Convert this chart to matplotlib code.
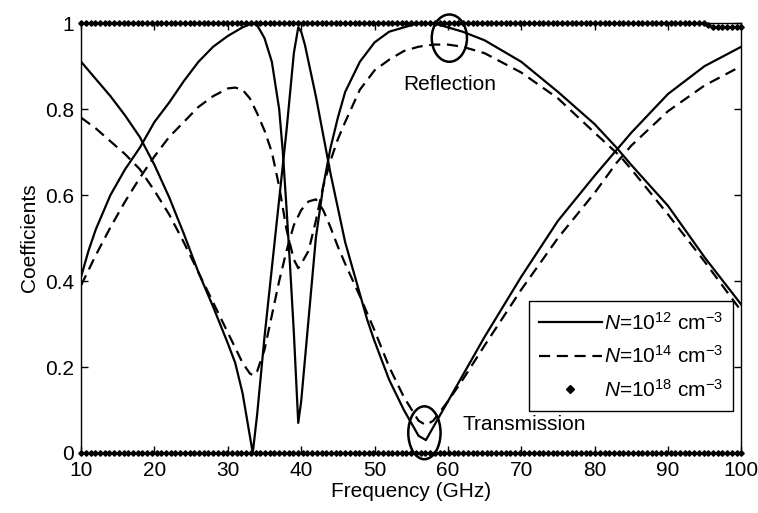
import numpy as np
import matplotlib
matplotlib.use("Agg")
import matplotlib.pyplot as plt
from matplotlib.patches import Ellipse

plt.rcParams['font.family'] = ['Liberation Sans', 'DejaVu Sans']
plt.rcParams['mathtext.fontset'] = 'custom'
plt.rcParams['mathtext.rm'] = 'Liberation Sans'
plt.rcParams['mathtext.it'] = 'Liberation Sans:italic'

# N = 1e12 cm^-3 (solid)
f_t12 = [10, 12, 14, 16, 18, 20, 22, 24, 26, 28, 30, 31, 32, 33, 33.4, 34, 35, 36, 37, 38,
         38.5, 39, 39.6, 40, 40.5, 41, 42, 43, 44, 45, 46, 47, 48, 49, 50, 52, 54, 55, 56,
         57, 58, 59, 60, 62, 65, 70, 75, 80, 83, 85, 90, 95, 100]
t12 = [0.91, 0.87, 0.83, 0.785, 0.735, 0.67, 0.595, 0.51, 0.42, 0.34, 0.255, 0.21, 0.14,
       0.04, 0.0, 0.09, 0.27, 0.43, 0.59, 0.75, 0.84, 0.93, 0.99, 0.98, 0.95, 0.91, 0.83,
       0.74, 0.65, 0.57, 0.49, 0.43, 0.37, 0.31, 0.26, 0.17, 0.10, 0.07, 0.04, 0.03, 0.06,
       0.09, 0.12, 0.18, 0.27, 0.41, 0.54, 0.645, 0.705, 0.745, 0.835, 0.90, 0.945]

f_r12 = [10, 11, 12, 13, 14, 16, 18, 20, 22, 24, 26, 28, 30, 31, 32, 33.4, 34, 35, 36, 37,
         37.5, 38, 38.5, 39, 39.6, 40, 41, 42, 43, 44, 45, 46, 48, 50, 52, 54, 56, 58, 60,
         62, 65, 70, 75, 80, 83, 85, 90, 95, 100]
r12 = [0.41, 0.47, 0.52, 0.56, 0.60, 0.66, 0.71, 0.77, 0.815, 0.865, 0.91, 0.945, 0.97,
       0.98, 0.99, 1.0, 0.995, 0.965, 0.91, 0.80, 0.70, 0.57, 0.43, 0.28, 0.07, 0.12,
       0.31, 0.50, 0.62, 0.71, 0.78, 0.84, 0.91, 0.955, 0.98, 0.99, 1.0, 1.0, 0.99, 0.98,
       0.96, 0.91, 0.84, 0.765, 0.71, 0.67, 0.575, 0.455, 0.345]

# N = 1e14 cm^-3 (dashed)
f_t14 = [10, 12, 14, 16, 18, 20, 22, 24, 26, 28, 30, 31, 32, 33, 33.5, 34, 35, 36, 37, 38,
         39, 40, 41, 42, 43, 44, 45, 46, 48, 50, 52, 54, 56, 57, 58, 60, 62, 65, 70, 75, 80,
         83, 85, 90, 95, 100]
t14 = [0.78, 0.755, 0.725, 0.695, 0.66, 0.61, 0.555, 0.49, 0.42, 0.35, 0.28, 0.245, 0.21,
       0.185, 0.18, 0.19, 0.24, 0.32, 0.40, 0.47, 0.53, 0.565, 0.585, 0.59, 0.565, 0.525,
       0.48, 0.44, 0.365, 0.285, 0.20, 0.13, 0.075, 0.065, 0.075, 0.12, 0.17, 0.25, 0.38,
       0.50, 0.605, 0.675, 0.715, 0.795, 0.855, 0.90]

f_r14 = [10, 12, 14, 16, 18, 20, 22, 24, 26, 28, 30, 31, 32, 33, 34, 35, 36, 37, 38, 39,
         39.6, 40, 41, 42, 43, 44, 45, 46, 48, 50, 52, 54, 56, 58, 60, 62, 65, 70, 75, 80,
         83.5, 85, 90, 95, 100]
r14 = [0.39, 0.46, 0.525, 0.585, 0.64, 0.69, 0.735, 0.77, 0.805, 0.83, 0.848, 0.85, 0.845,
       0.825, 0.79, 0.75, 0.70, 0.62, 0.52, 0.45, 0.43, 0.44, 0.47, 0.54, 0.62, 0.68, 0.73,
       0.77, 0.845, 0.89, 0.915, 0.935, 0.945, 0.95, 0.95, 0.945, 0.93, 0.885, 0.825,
       0.745, 0.69, 0.66, 0.555, 0.445, 0.33]

# N = 1e18 cm^-3 (markers)
f18 = np.linspace(10, 100, 141)
r18 = [1.0] * 133 + [0.995] + [0.99] * 7
t18 = [0.0] * 141

FS = 15

fig = plt.figure(figsize=(7.58, 5.13), dpi=100)
ax = fig.add_axes([0.107, 0.117, 0.871, 0.838])

lw = 1.6
ax.plot(f_r12, r12, color='black', lw=lw, label=r'$\it{N}$=10$^{12}$ cm$^{-3}$')
ax.plot(f_t12, t12, color='black', lw=lw)
ax.plot(f_r14, r14, color='black', lw=lw, linestyle=(0, (5, 3)),
        label=r'$\it{N}$=10$^{14}$ cm$^{-3}$')
ax.plot(f_t14, t14, color='black', lw=lw, linestyle=(0, (5, 3)))
ax.plot(f18, r18, color='black', linestyle='none', marker='D', markersize=2.8,
        clip_on=False, zorder=5, label=r'$\it{N}$=10$^{18}$ cm$^{-3}$')
ax.plot(f18, t18, color='black', linestyle='none', marker='D', markersize=2.8,
        clip_on=False, zorder=5)

# annotation ellipses
ax.add_patch(Ellipse((60.2, 0.965), 4.8, 0.11, fill=False, lw=1.8, color='black', clip_on=False))
ax.add_patch(Ellipse((56.8, 0.047), 4.4, 0.123, fill=False, lw=1.8, color='black', clip_on=False))
ax.text(60.3, 0.858, 'Reflection', ha='center', va='center', fontsize=FS)
ax.text(70.4, 0.067, 'Transmission', ha='center', va='center', fontsize=FS)

ax.set_xlim(10, 100)
ax.set_ylim(0, 1)
ax.set_xticks(range(10, 101, 10))
ax.set_yticks([0, 0.2, 0.4, 0.6, 0.8, 1])
ax.set_yticklabels(['0', '0.2', '0.4', '0.6', '0.8', '1'])
ax.tick_params(direction='in', top=True, right=True, length=5, labelsize=FS, width=1)
ax.tick_params(axis='x', pad=6)
ax.tick_params(axis='y', pad=5)
for s in ax.spines.values():
    s.set_linewidth(1)
ax.set_xlabel('Frequency (GHz)', fontsize=FS, labelpad=1)
ax.set_ylabel('Coefficients', fontsize=FS, labelpad=4)

leg = ax.legend(loc='lower right', bbox_to_anchor=(0.988, 0.098), borderaxespad=0,
                fontsize=FS, fancybox=False, edgecolor='black', framealpha=1,
                handlelength=3.0, handletextpad=0.1, labelspacing=0.55,
                borderpad=0.5, markerscale=1.3)
leg.get_frame().set_linewidth(1)

fig.savefig('out.png', dpi=100)
